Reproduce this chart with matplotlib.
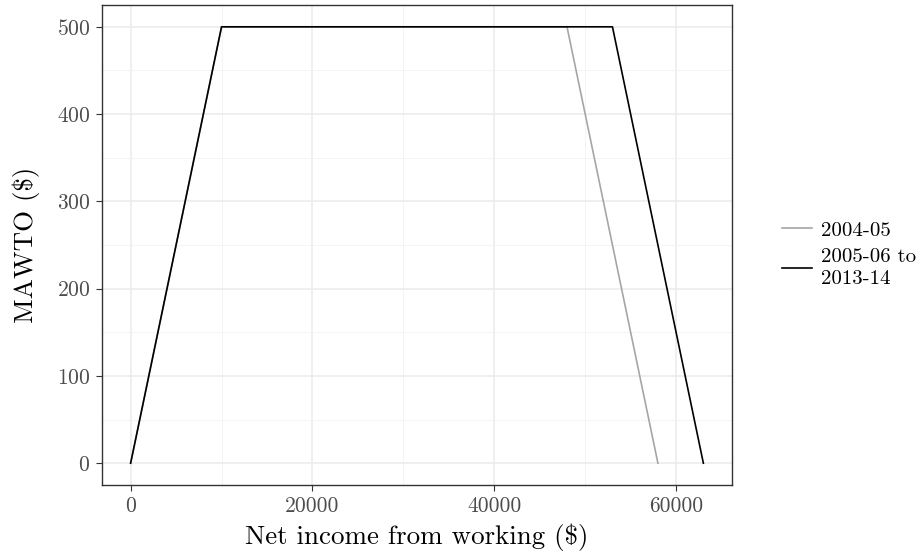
import matplotlib
matplotlib.use("Agg")
import matplotlib.pyplot as plt
from matplotlib.ticker import MultipleLocator

plt.rcParams['font.family'] = ['cmr10', 'DejaVu Serif']
plt.rcParams['mathtext.fontset'] = 'cm'
plt.rcParams['axes.unicode_minus'] = False
plt.rcParams['axes.formatter.use_mathtext'] = True

# data
income_0405 = [0, 10000, 48000, 58000]
mawto_0405 = [0, 500, 500, 0]
income_0514 = [0, 10000, 53000, 63000]
mawto_0514 = [0, 500, 500, 0]
labels = ['2004-05', '2005-06 to\n2013-14']

fig = plt.figure(figsize=(9.21, 5.54), dpi=100)
ax = fig.add_axes([102/921, 1 - 485/554, 630/921, 480/554])

ax.plot(income_0405, mawto_0405, color='#A6A6A6', lw=1.2, label=labels[0])
ax.plot(income_0514, mawto_0514, color='black', lw=1.2, label=labels[1])

ax.set_xlim(-3150, 66150)
ax.set_ylim(-25, 525)
ax.xaxis.set_major_locator(MultipleLocator(20000))
ax.xaxis.set_minor_locator(MultipleLocator(10000))
ax.yaxis.set_major_locator(MultipleLocator(100))
ax.yaxis.set_minor_locator(MultipleLocator(50))
ax.xaxis.set_major_formatter(plt.FuncFormatter(lambda v, p: '%d' % v))

ax.grid(which='major', color='#EBEBEB', lw=1.1)
ax.grid(which='minor', color='#F3F3F3', lw=0.6)
ax.set_axisbelow(True)
for s in ax.spines.values():
    s.set_color('#333333')
    s.set_linewidth(1.0)
ax.tick_params(which='major', length=4.5, color='#333333', labelcolor='#4D4D4D',
               labelsize=15.5, pad=4)
ax.tick_params(which='minor', length=0)

ax.set_xlabel('Net income from working (\\$)', fontsize=19.4, labelpad=5)
ax.set_ylabel('MAWTO (\\$)', fontsize=19.4, labelpad=12)

leg = ax.legend(loc='center left', bbox_to_anchor=(1.049, 0.48), frameon=False,
                fontsize=15, handlelength=1.45, handletextpad=0.45, labelspacing=0.4)
for t in leg.get_texts():
    t.set_linespacing(1.3)

fig.savefig('out.png', dpi=100)
